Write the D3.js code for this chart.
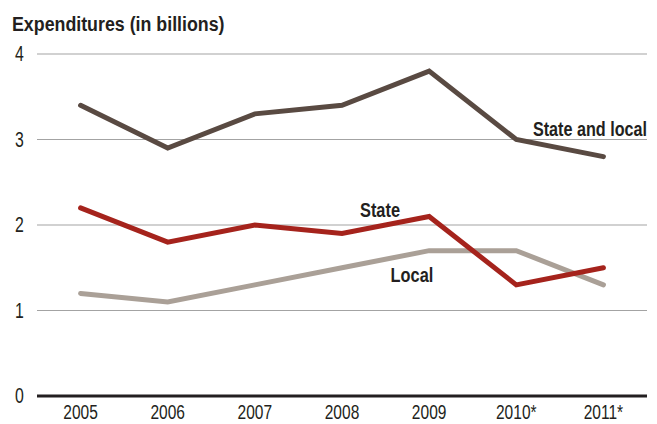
<!DOCTYPE html>
<html>
<head>
<meta charset="utf-8">
<title>Expenditures</title>
<script src="https://d3js.org/d3.v7.min.js"></script>
<style>
  body { margin: 0; background: #fff; }
  text { font-family: "Liberation Sans", Arial, sans-serif; fill: #231f20; }
</style>
</head>
<body>
<svg id="chart"></svg>
<script>
// data
var years = ["2005", "2006", "2007", "2008", "2009", "2010*", "2011*"];
var stateAndLocal = [3.4, 2.9, 3.3, 3.4, 3.8, 3.0, 2.8];
var state = [2.2, 1.8, 2.0, 1.9, 2.1, 1.3, 1.5];
var local = [1.2, 1.1, 1.3, 1.5, 1.7, 1.7, 1.3];
var yTicks = [0, 1, 2, 3, 4];

var width = 657, height = 424;
var svg = d3.select("#chart").attr("width", width).attr("height", height);

var x = d3.scalePoint().domain(years).range([37, 647]).padding(0.5);
var y = d3.scaleLinear().domain([0, 4]).range([396, 54]);

// condensed text: squeeze horizontally around the anchor point
function label(parent, tx, ty, str, size, bold, anchor, sx) {
    var g = parent.append("g").attr("transform", "translate(" + tx + "," + ty + ") scale(" + sx + ",1)");
    g.append("text")
        .attr("text-anchor", anchor)
        .style("font-size", size + "px")
        .style("font-weight", bold ? "bold" : "normal")
        .text(str);
    return g;
}

// title
label(svg, 12, 31, "Expenditures (in billions)", 20, true, "start", 0.89);

// gridlines
svg.append("g").selectAll("line")
    .data(yTicks.filter(function (d) { return d > 0; }))
    .enter().append("line")
    .attr("x1", 37).attr("x2", 647)
    .attr("y1", function (d) { return y(d); })
    .attr("y2", function (d) { return y(d); })
    .attr("stroke", "#a3a3a3").attr("stroke-width", 1);

// baseline
svg.append("line")
    .attr("x1", 37).attr("x2", 647)
    .attr("y1", y(0)).attr("y2", y(0))
    .attr("stroke", "#231f20").attr("stroke-width", 3);

// y tick labels
var yg = svg.append("g");
yTicks.forEach(function (d) {
    label(yg, 19.5, y(d) + 7, String(d), 22, false, "middle", 0.72);
});

// x tick labels
var xg = svg.append("g");
years.forEach(function (d) {
    label(xg, x(d), 419, d, 21, false, "middle", 0.74);
});

var line = d3.line()
    .x(function (d, i) { return x(years[i]); })
    .y(function (d) { return y(d); });

var series = [
    { values: local, color: "#aaa097" },
    { values: state, color: "#a5231c" },
    { values: stateAndLocal, color: "#594a42" }
];

svg.append("g").selectAll("path")
    .data(series).enter().append("path")
    .attr("d", function (d) { return line(d.values); })
    .attr("fill", "none")
    .attr("stroke", function (d) { return d.color; })
    .attr("stroke-width", 5)
    .attr("stroke-linecap", "round")
    .attr("stroke-linejoin", "miter");

// series labels
label(svg, 647, 136, "State and local", 21, true, "end", 0.77);
label(svg, 380, 217, "State", 21, true, "middle", 0.78);
label(svg, 412, 282, "Local", 21, true, "middle", 0.78);
</script>
</body>
</html>
